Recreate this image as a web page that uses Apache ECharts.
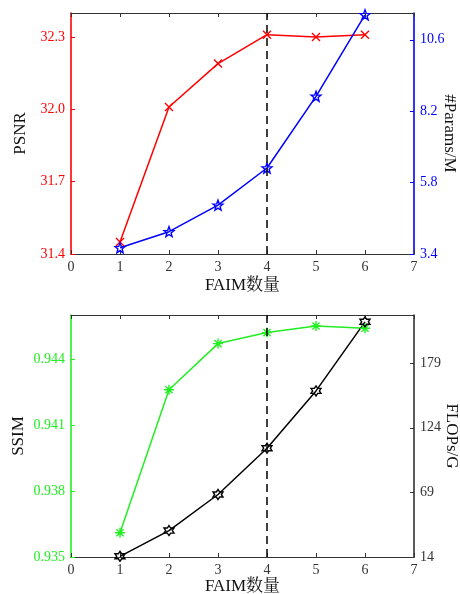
<!DOCTYPE html>
<html><head><meta charset="utf-8">
<script src="https://cdn.jsdelivr.net/npm/echarts@6/dist/echarts.min.js"></script>
<style>html,body{margin:0;padding:0;background:#fff}#c{width:460px;height:594px}</style>
</head><body><div id="c"></div>
<script>
// ---- data ----
const faimCounts = [1, 2, 3, 4, 5, 6];
const psnr = [31.45, 32.01, 32.19, 32.31, 32.30, 32.31];
const paramsM = [3.61, 4.15, 5.04, 6.29, 8.70, 11.44];
const ssim = [0.9361, 0.9426, 0.9447, 0.9452, 0.9455, 0.9454];
const flopsG = [14.6, 36.5, 67.2, 106.6, 155.4, 214.2];
const xTicks = [0, 1, 2, 3, 4, 5, 6, 7];
const psnrTicks = [31.4, 31.7, 32.0, 32.3];
const paramsTicks = [3.4, 5.8, 8.2, 10.6];
const ssimTicks = [0.935, 0.938, 0.941, 0.944];
const flopsTicks = [14, 69, 124, 179];
const chosen = 4;

// ---- symbols ----
function star5() {
  let d = '';
  for (let i = 0; i < 10; i++) {
    const r = i % 2 === 0 ? 10 : 4.2;
    const a = -Math.PI / 2 + i * Math.PI / 5;
    d += (i === 0 ? 'M' : 'L') + (10 + r * Math.cos(a)).toFixed(2) + ',' + (10 + r * Math.sin(a)).toFixed(2);
  }
  return 'path://' + d + 'Z';
}
function star6() {
  let d = '';
  for (let i = 0; i < 12; i++) {
    const r = i % 2 === 0 ? 10 : 5.8;
    const a = -Math.PI / 2 + i * Math.PI / 6;
    d += (i === 0 ? 'M' : 'L') + (10 + r * Math.cos(a)).toFixed(2) + ',' + (10 + r * Math.sin(a)).toFixed(2);
  }
  return 'path://' + d + 'Z';
}
const crossSym = 'path://M0,0L10,10M0,10L10,0';
const asteriskSym = 'path://M10,0L10,20M0,10L20,10M2.9,2.9L17.1,17.1M2.9,17.1L17.1,2.9';

const FONT = '"Liberation Serif","Noto Serif CJK SC","Noto Sans CJK SC",serif';
const RED = '#ff0000', BLUE = '#0000ff', GREEN = '#22ee22', DARK = '#333333';

function pts(xs, ys) { return xs.map((x, i) => [x, ys[i]]); }

function xAx(gi, top, gap) {
  return {
    type: 'value', gridIndex: gi, position: top ? 'top' : 'bottom',
    min: xTicks[0], max: xTicks[xTicks.length - 1], interval: 1,
    axisLine: { onZero: false, lineStyle: { color: DARK, width: 1.2 } },
    axisTick: { inside: true, length: 4, lineStyle: { color: DARK } },
    axisLabel: top ? { show: false } : { color: DARK, fontFamily: FONT, fontSize: 14, margin: 6 },
    splitLine: { show: false },
    name: top ? '' : 'FAIM数量', nameLocation: 'middle', nameGap: gap || 21, nameMoveOverlap: false,
    nameTextStyle: { color: '#111', fontFamily: FONT, fontSize: 17 }
  };
}
function yAx(gi, pos, ticks, max, color, name, fmt, nameGap, nameRotate) {
  return {
    type: 'value', gridIndex: gi, position: pos,
    min: ticks[0], max: max, interval: +(ticks[1] - ticks[0]).toFixed(6),
    axisLine: { show: true, onZero: false, lineStyle: { color: color, width: 1.6 } },
    axisTick: { show: true, inside: true, length: 4, lineStyle: { color: color } },
    axisLabel: { color: color, fontFamily: FONT, fontSize: 14, margin: 6, showMaxLabel: false, formatter: fmt },
    splitLine: { show: false },
    name: name, nameLocation: 'middle', nameGap: nameGap, nameRotate: nameRotate, nameMoveOverlap: false,
    nameTextStyle: { color: '#111', fontFamily: FONT, fontSize: 17 }
  };
}
function lineSeries(xi, yi, data, color, sym, size) {
  return {
    type: 'line', xAxisIndex: xi, yAxisIndex: yi, data: data,
    symbol: sym, symbolSize: size, showAllSymbol: true,
    lineStyle: { color: color, width: 1.5 },
    itemStyle: { color: 'rgba(255,255,255,0)', borderColor: color, borderWidth: 1.4 },
    emphasis: { disabled: true }, animation: false, z: 3
  };
}
const dashLine = {
  silent: true, symbol: 'none', label: { show: false },
  lineStyle: { color: '#111', type: [8, 5], width: 1.6 },
  data: [{ xAxis: chosen }]
};

const option = {
  animation: false,
  grid: [
    { left: 71, top: 13, width: 343, height: 241, containLabel: false, outerBoundsMode: 'none' },
    { left: 71, top: 315, width: 343, height: 242, containLabel: false, outerBoundsMode: 'none' }
  ],
  xAxis: [xAx(0, false, 23), xAx(0, true), xAx(1, false, 21), xAx(1, true)],
  yAxis: [
    yAx(0, 'left', psnrTicks, 32.4, RED, 'PSNR', v => v.toFixed(1), 42, 90),
    yAx(0, 'right', paramsTicks, 11.5, BLUE, '#Params/M', v => v.toFixed(1), 27, -90),
    yAx(1, 'left', ssimTicks, 0.946, GREEN, 'SSIM', v => v.toFixed(3), 44, 90),
    yAx(1, 'right', flopsTicks, 220, DARK, 'FLOPs/G', v => Math.round(v), 29, -90)
  ],
  series: [
    Object.assign(lineSeries(0, 0, pts(faimCounts, psnr), RED, crossSym, 8), { markLine: dashLine }),
    lineSeries(0, 1, pts(faimCounts, paramsM), BLUE, star5(), 10),
    Object.assign(lineSeries(2, 2, pts(faimCounts, ssim), GREEN, asteriskSym, 10), { markLine: dashLine }),
    lineSeries(2, 3, pts(faimCounts, flopsG), '#000', star6(), 10)
  ]
};
echarts.init(document.getElementById('c'), null, { renderer: 'canvas' }).setOption(option);
</script></body></html>
